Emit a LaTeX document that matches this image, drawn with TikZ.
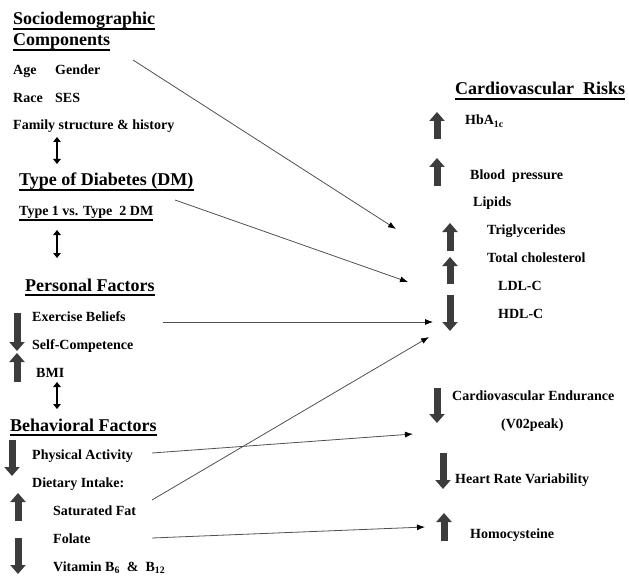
\documentclass[tikz,border=0pt]{standalone}
\usepackage{fontspec}
\setmainfont{Liberation Serif}
\usetikzlibrary{arrows.meta}
\definecolor{arrowgray}{HTML}{3C3C3C}
\definecolor{linkgray}{HTML}{505050}

\tikzset{
  headtxt/.style={anchor=base west,inner sep=0pt,text depth=4pt,font=\fontsize{18}{20}\selectfont\bfseries},
  subtxt/.style={headtxt,font=\fontsize{14}{16}\selectfont\bfseries},
  itemtxt/.style={anchor=base west,inner sep=0pt,font=\fontsize{14}{16}\selectfont\bfseries},
  uline/.style={line width=1.7pt},
  bigarrow/.style={draw=arrowgray,line width=7pt,-{Triangle[length=9pt,width=15pt]}},
  dblarrow/.style={line width=2.2pt,{Triangle[length=5pt,width=7.5pt]}-{Triangle[length=5pt,width=7.5pt]}},
  link/.style={draw=linkgray,line width=0.8pt,-{Latex[length=8pt,width=6pt,color=black]}}
}

\begin{document}
\begin{tikzpicture}[x=1pt,y=-1pt]
\useasboundingbox (0,0) rectangle (629,580);

% left column
\node[headtxt] (soc) at (13,25) {Sociodemographic};
\node[headtxt] (comp) at (13,46) {Components};
\node[itemtxt] (age) at (13,75) {Age};
\node[itemtxt] (gender) at (55,75) {Gender};
\node[itemtxt] (race) at (13,103) {Race};
\node[itemtxt] (ses) at (55,103) {SES};
\node[itemtxt] (fam) at (13,130) {Family structure \& history};

\node[headtxt] (tod) at (19,186) {Type of Diabetes (DM)};
\node[subtxt] (t1t2) at (19,215.5) {Type 1 vs. Type~~2 DM};

\node[headtxt] (pers) at (25,291) {Personal Factors};
\node[itemtxt] (exer) at (32,321) {Exercise Beliefs};
\node[itemtxt] (selfc) at (32,349.5) {Self-Competence};
\node[itemtxt] (bmi) at (36,377) {BMI};

\node[headtxt] (beh) at (10,431) {Behavioral Factors};
\node[itemtxt] (pa) at (32,459) {Physical Activity};
\node[itemtxt] (diet) at (32,487) {Dietary Intake:};
\node[itemtxt] (satfat) at (53,515) {Saturated Fat};
\node[itemtxt] (folate) at (53,543) {Folate};
\node[itemtxt] (vit) at (53,571) {Vitamin B\textsubscript{6}~~\&~~B\textsubscript{12}};

% right column
\node[headtxt] (cvr) at (455,95) {Cardiovascular~~Risks};
\node[itemtxt] (hba) at (465,125) {HbA\textsubscript{1c}};
\node[itemtxt] (bp) at (470,180) {Blood~~pressure};
\node[itemtxt] (lipids) at (473,207) {Lipids};
\node[itemtxt] (trig) at (487,235) {Triglycerides};
\node[itemtxt] (tchol) at (487,262) {Total cholesterol};
\node[itemtxt] (ldl) at (498,290) {LDL-C};
\node[itemtxt] (hdl) at (498,318) {HDL-C};
\node[itemtxt] (cve) at (452,400) {Cardiovascular Endurance};
\node[itemtxt] (vo2) at (501,428) {(V02peak)};
\node[itemtxt] (hrv) at (455,483) {Heart Rate Variability};
\node[itemtxt] (hcy) at (470,538) {Homocysteine};

\foreach \n in {soc,comp,tod,t1t2,pers,beh,cvr}
  \draw[uline] (\n.south west) -- (\n.south east);

% up / down marks
\draw[bigarrow] (17,313) -- (17,351);
\draw[bigarrow] (17,382) -- (17,353);
\draw[bigarrow] (12,440) -- (12,476);
\draw[bigarrow] (18,521) -- (18,493);
\draw[bigarrow] (18,538) -- (18,574);
\draw[bigarrow] (437,139) -- (437,112);
\draw[bigarrow] (437,186) -- (437,158);
\draw[bigarrow] (450,251) -- (450,223);
\draw[bigarrow] (450,284) -- (450,257);
\draw[bigarrow] (450,295) -- (450,331);
\draw[bigarrow] (437,388) -- (437,423);
\draw[bigarrow] (443,453) -- (443,489);
\draw[bigarrow] (444,541) -- (444,513);

\draw[dblarrow] (57,137) -- (57,164);
\draw[dblarrow] (57,230) -- (57,258);
\draw[dblarrow] (57,382) -- (57,409);

% links to the risks
\coordinate (comp-out) at (133,60);
\coordinate (tod-out) at (175,200);
\coordinate (exer-out) at (163,322);
\coordinate (pa-out) at (152,453);
\coordinate (fat-out) at (152,500);
\coordinate (fol-out) at (152,538);
\coordinate (lip-in) at (396,229);
\coordinate (chol-in) at (408,282);
\coordinate (hdl-in) at (433,322);
\coordinate (hdl-low) at (429,337);
\coordinate (cve-in) at (413,434);
\coordinate (hcy-in) at (425,527);

\draw[link] (comp-out) -- (lip-in);
\draw[link] (tod-out) -- (chol-in);
\draw[link] (exer-out) -- (hdl-in);
\draw[link] (fat-out) -- (hdl-low);
\draw[link] (pa-out) -- (cve-in);
\draw[link] (fol-out) -- (hcy-in);
\end{tikzpicture}
\end{document}
